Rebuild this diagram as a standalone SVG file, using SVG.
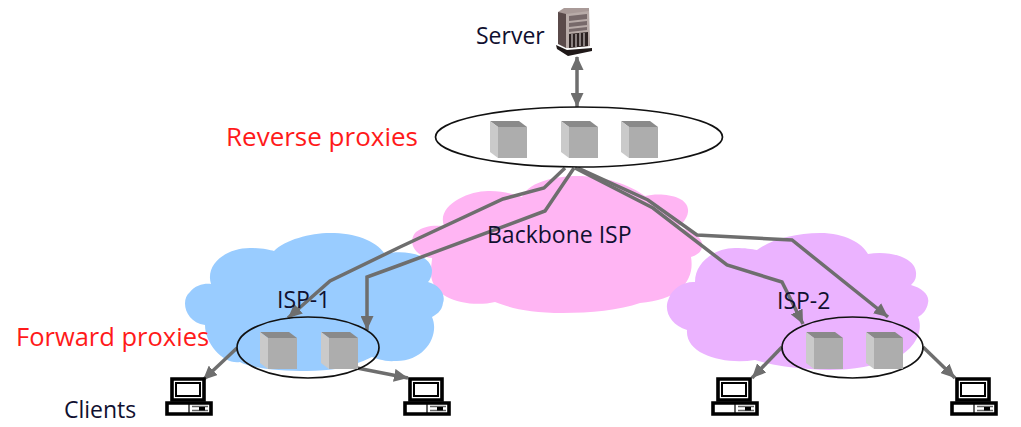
<svg xmlns="http://www.w3.org/2000/svg" width="1021" height="427" viewBox="0 0 1021 427">
<style>
text{font-family:"Open Sans","Liberation Sans",sans-serif;font-size:23px;fill:#101030}
.red{fill:#ff1a1a;font-size:26px}
.ring{fill:none;stroke:#111;stroke-width:1.700}
.link{fill:none;stroke:#6e6e6e;stroke-width:3.500;stroke-linejoin:miter;marker-end:url(#arrow)}
.both{marker-start:url(#arrowS)}
</style>
<defs>
<marker id="arrow" markerUnits="userSpaceOnUse" markerWidth="15" markerHeight="13" refX="14" refY="6.500" orient="auto"><path d="M0 0L14 6.500L0 13Z" fill="#6e6e6e"/></marker>
<marker id="arrowS" markerUnits="userSpaceOnUse" markerWidth="15" markerHeight="13" refX="1" refY="6.500" orient="auto"><path d="M14 0L0 6.500L14 13Z" fill="#6e6e6e"/></marker>
<g id="cube">
<path d="M0 0H29L37 6H8Z" fill="#8a8a8a"/>
<path d="M0 0L8 6V37L0 31Z" fill="#cacaca"/>
<rect x="8" y="6" width="29" height="31" fill="#adadad"/>
</g>
<g id="pc">
<path d="M7 2H39V23H7Z" fill="#fff" stroke="#000" stroke-width="3.600"/>
<path d="M11 6H35V19H11Z" fill="#fff" stroke="#000" stroke-width="2"/>
<path d="M2 26H46V37H2Z" fill="#fff" stroke="#000" stroke-width="3.600"/>
<path d="M24 26V37" stroke="#000" stroke-width="1.200"/>
<path d="M27 29.500H43M27 33.500H43" stroke="#666" stroke-width="1.600"/>
<rect x="34" y="30" width="6" height="3.500" fill="#000"/>
</g>
</defs>
<rect width="1021" height="427" fill="#fff"/>
<g id="cloud-backbone"><path fill="#ffb5f3" d="M432 258C412 256 408 240 416 232C424 226 432 225 444 226C436 205 470 190 490 191C505 191 515 195 522 197C530 180 560 176 577 176C605 176 630 185 645 196C660 192 690 195 688 212C687 220 680 226 676 228C693 229 704 240 702 246C702 252 697 255 691 257C695 280 680 300 640 303C620 310 590 313 563 313C530 313 510 308 495 302C470 308 430 300 431 272C431 265 432 262 432 258Z"/></g>
<g id="cloud-isp1"><path fill="#99ccff" d="M211 284C205 265 225 248 250 248C262 248 270 250 274 251C285 240 310 233 330 233C355 233 375 240 385 254C400 250 430 252 432 270C432 276 430 280 428 282C440 285 446 295 443 303C442 312 435 315 432 317C440 335 425 362 395 361C385 362 375 358 372 357C350 368 330 371 307 371C280 371 250 368 240 362C225 365 205 345 205 325C185 322 180 300 190 292C195 285 205 283 211 284Z"/></g>
<g id="cloud-isp2"><path fill="#ebb3ff" d="M695 282C695 262 715 248 735 248C745 248 752 249 757 250C770 240 795 233 820 233C845 233 862 243 868 254C890 250 918 258 916 275C916 280 913 283 911 285C922 288 930 295 928 303C927 310 922 315 918 317C924 330 915 350 895 358C870 368 840 372 810 369C790 368 770 365 755 360C725 365 685 355 687 330C670 325 663 310 669 298C672 288 685 281 695 282Z"/></g>
<g id="connectors">
<path class="link both" d="M577 57V107"/>
<path class="link" d="M565 168L544 188L503 199L400 247L330 281L288 318"/>
<path class="link" d="M574 168L545 211L400 265L367 277V330"/>
<path class="link" d="M578 168L648 200L697 235L792 240L888 317"/>
<path class="link" d="M575 168L653 208L727 265L782 282L803 324"/>
<path class="link" d="M237 348L203 380"/>
<path class="link" d="M357 368L408 378"/>
<path class="link" d="M782 347L752 378"/>
<path class="link" d="M923 347L955 378"/>
</g>
<g id="reverse-proxies">
<ellipse class="ring" cx="579" cy="137" rx="143.500" ry="30"/>
<use href="#cube" x="490" y="121"/><use href="#cube" x="561" y="121"/><use href="#cube" x="621" y="121"/>
</g>
<g id="forward-proxies-1">
<ellipse class="ring" cx="308" cy="347.500" rx="71" ry="30.500"/>
<use href="#cube" x="260" y="332"/><use href="#cube" x="321" y="332"/>
</g>
<g id="forward-proxies-2">
<ellipse class="ring" cx="852.500" cy="347.500" rx="70.500" ry="30.500"/>
<use href="#cube" x="806" y="332"/><use href="#cube" x="866" y="332"/>
</g>
<g id="server">
<path d="M558 12L564 8H589L590 46L566 48Z" fill="#a99a98"/>
<path d="M558 12L566 14V48L558 44Z" fill="#5a4a4a"/>
<path d="M566 14L589 11V46L566 48Z" fill="#b8aba8"/>
<path d="M569 16L587 14V19L569 21ZM569 23L587 21V25L569 27ZM569 29L587 27V30L569 32Z" fill="#77696a"/>
<path d="M569 34L588 32V46L569 48Z" fill="#2c2222"/>
<path d="M572 34V47M576 34V47M580 33V46M584 33V46" stroke="#c8c0c0" stroke-width="1.200"/>
<path d="M556 45L567 50L592 48L592 51L568 56L557 49Z" fill="#1f1818"/>
</g>
<g id="clients">
<use href="#pc" x="165" y="377"/><use href="#pc" x="403" y="377"/><use href="#pc" x="711" y="377"/><use href="#pc" x="950" y="377"/>
</g>
<g id="labels">
<text x="476" y="44">Server</text>
<text class="red" x="226" y="146">Reverse proxies</text>
<text x="487" y="243">Backbone ISP</text>
<text x="277" y="308">ISP-1</text>
<text x="777" y="309">ISP-2</text>
<text class="red" x="16" y="346" style="font-size:25.500px">Forward proxies</text>
<text x="64" y="418">Clients</text>
</g>
</svg>
